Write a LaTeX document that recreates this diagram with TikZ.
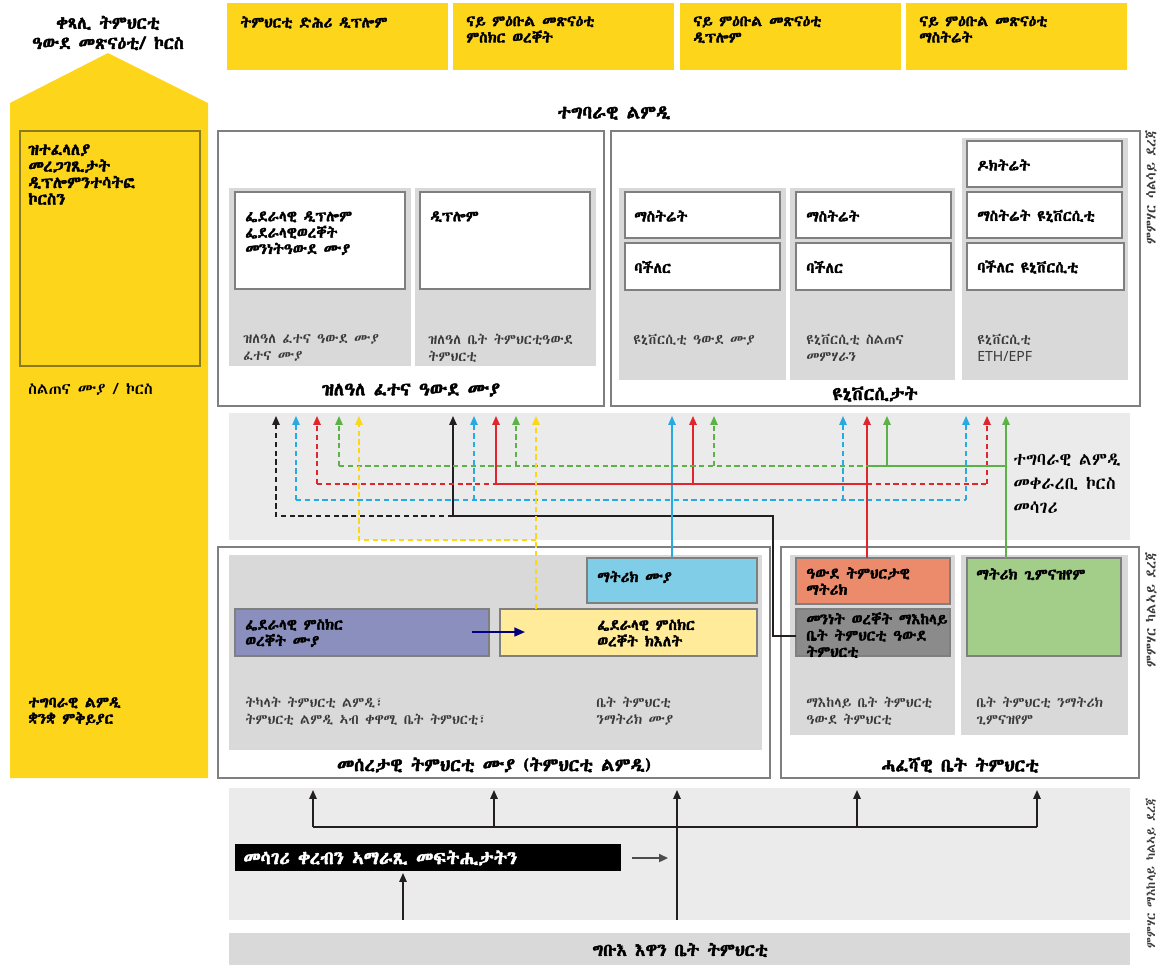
\documentclass[tikz,border=0pt]{standalone}
\usepackage{fontspec}
\IfFontExistsTF{Abyssinica SIL}{\setmainfont{Abyssinica SIL}[AutoFakeBold=2.5]}{%
 \IfFontExistsTF{FreeSerif}{\setmainfont{FreeSerif}}{\setmainfont{Noto Sans}}}
\newfontfamily\latinsf{Noto Sans}
\usetikzlibrary{arrows.meta}
\definecolor{yelbar}{HTML}{FDD61C}
\definecolor{panelgray}{HTML}{D9D9D9}
\definecolor{bandgray}{HTML}{EBEBEB}
\definecolor{framegray}{HTML}{7F7F7F}
\definecolor{notegray}{HTML}{3A3A3A}
\definecolor{matblue}{HTML}{7FCDE6}
\definecolor{certviolet}{HTML}{8A8FBE}
\definecolor{certyel}{HTML}{FFEB99}
\definecolor{salmon}{HTML}{EC8A6C}
\definecolor{midgray}{HTML}{8B8B8B}
\definecolor{gymgreen}{HTML}{A3CE89}
\definecolor{olive}{HTML}{8C7A1E}
\definecolor{lk}{HTML}{231F20}
\definecolor{lb}{HTML}{27AAE1}
\definecolor{lr}{HTML}{E1252D}
\definecolor{lg}{HTML}{5BB347}
\definecolor{ly}{HTML}{F9D71C}
\tikzset{
  frame/.style={draw=framegray, line width=1.1pt},
  cert/.style={draw=framegray, line width=0.8pt},
  lbl/.style={anchor=north west, align=left, inner sep=0pt, font=\fontsize{8.6}{9.3}\selectfont\bfseries},
  lblw/.style={lbl, anchor=west},
  note/.style={anchor=north west, align=left, inner sep=0pt, text=notegray, font=\fontsize{8}{9.6}\selectfont},
  ttl/.style={inner sep=0pt, font=\fontsize{10.5}{12}\selectfont\bfseries},
  up/.style={-{Triangle[length=5pt,width=4.2pt]}},
  dsh/.style={dash pattern=on 3pt off 2pt},
  conn/.style={line width=0.75pt}
}
\begin{document}
\begin{tikzpicture}[x=0.02cm,y=-0.02cm]
\useasboundingbox (0,0) rectangle (1159,965);
% left column
\fill[yelbar] (10,103) -- (108,53) -- (208,103) -- (208,778) -- (10,778) -- cycle;
\draw[olive, line width=0.6pt] (20,131) rectangle (200,366);
\node[ttl, align=center, font=\fontsize{10}{11.5}\selectfont\bfseries] (cont) at (108,33) {ቀጻሊ ትምህርቲ\\ዓውደ መጽናዕቲ/ ኮርስ};
\node[lbl, font=\fontsize{9.4}{9.4}\selectfont\bfseries] (divers) at (28,144) {ዝተፈላለያ\\መረጋገጺታት\\ዲፕሎምንተሳትፎ\\ኮርስን};
\node[lbl, font=\fontsize{9}{10}\selectfont] (course) at (28,383) {ስልጠና ሙያ / ኮርስ};
\node[lbl] (lang) at (28,697) {ተግባራዊ ልምዲ\\ቋንቋ ምቅይያር};
% top boxes
\foreach \x in {227,453,680,906}
  \fill[yelbar] (\x,3) rectangle ++(221,67);
\node[lbl] (adv1) at (240,16) {ትምህርቲ ድሕሪ ዲፕሎም};
\node[lbl] (adv2) at (466,16) {ናይ ምዕቡል መጽናዕቲ\\ምስክር ወረቐት};
\node[lbl] (adv3) at (693,16) {ናይ ምዕቡል መጽናዕቲ\\ዲፕሎም};
\node[lbl] (adv4) at (919,16) {ናይ ምዕቡል መጽናዕቲ\\ማስትሬት};
\node[ttl] (prac) at (614,113) {ተግባራዊ ልምዲ};
% higher vocational
\draw[frame] (218,131) rectangle (604,406);
\fill[panelgray] (229,188) rectangle (411,366);
\fill[panelgray] (415,188) rectangle (596,366);
\draw[cert, fill=white] (235,192) rectangle (405,289);
\draw[cert, fill=white] (420,192) rectangle (590,289);
\node[lbl] (fdip) at (245,211) {ፌደራላዊ ዲፕሎም\\ፌደራላዊወረቐት\\መንነትዓውደ ሙያ};
\node[lbl] (dip) at (430,211) {ዲፕሎም};
\node[note] (hexam) at (243,334) {ዝለዓለ ፈተና ዓውደ ሙያ\\ፈተና ሙያ};
\node[note] (hschool) at (428,334) {ዝለዓለ ቤት ትምህርቲዓውደ\\ትምህርቲ};
\node[ttl] (hvoc) at (411,390) {ዝለዓለ ፈተና ዓውደ ሙያ};
% universities
\draw[frame] (611,131) rectangle (1140,406);
\fill[panelgray] (619,188) rectangle (786,380);
\fill[panelgray] (790,188) rectangle (955,380);
\fill[panelgray] (962,138) rectangle (1128,380);
\foreach \x in {625,796}{
  \draw[cert, fill=white] (\x,192) rectangle ++(155,46);
  \draw[cert, fill=white] (\x,243) rectangle ++(155,47);
}
\draw[cert, fill=white] (967,141) rectangle (1122,187);
\draw[cert, fill=white] (967,192) rectangle (1122,238);
\draw[cert, fill=white] (967,243) rectangle (1124,290);
\node[lblw] (ms1) at (634,216) {ማስትሬት};
\node[lblw] (ba1) at (634,267) {ባችለር};
\node[lblw] (ms2) at (806,216) {ማስትሬት};
\node[lblw] (ba2) at (806,267) {ባችለር};
\node[lblw] (doc) at (977,165) {ዶክትሬት};
\node[lblw] (ms3) at (977,216) {ማስትሬት ዩኒቨርሲቲ};
\node[lblw] (ba3) at (977,267) {ባችለር ዩኒቨርሲቲ};
\node[note] (uas) at (633,334) {ዩኒቨርሲቲ ዓውደ ሙያ};
\node[note] (ute) at (806,334) {ዩኒቨርሲቲ ስልጠና\\መምሃራን};
\node[note] (eth) at (977,334) {ዩኒቨርሲቲ\\{\latinsf ETH/EPF}};
\node[ttl] (univ) at (875,394) {ዩኒቨርሲታት};
% bridge band
\fill[bandgray] (229,413) rectangle (1130,540);
\node[note, text=black, font=\fontsize{10}{13.6}\selectfont] (bridge) at (1013,454) {ተግባራዊ ልምዲ\\መቀራረቢ ኮርስ\\መሳገሪ};
% basic vocational
\draw[frame] (218,547) rectangle (770,778);
\fill[panelgray] (229,555) rectangle (762,750);
\draw[cert, fill=matblue] (587,558) rectangle (757,603);
\draw[cert, fill=certviolet] (235,609) rectangle (489,656);
\draw[cert, fill=certyel] (500,609) rectangle (757,656);
\node[lblw] (bmat) at (597,577) {ማትሪክ ሙያ};
\node[lblw] (fvoc) at (245,633) {ፌደራላዊ ምስክር\\ወረቐት ሙያ};
\node[lblw] (fcert) at (597,633) {ፌደራላዊ ምስክር\\ወረቐት ክእለት};
\node[note] (train) at (245,697) {ትካላት ትምህርቲ ልምዲ፣\\ትምህርቲ ልምዲ ኣብ ቀዋሚ ቤት ትምህርቲ፣};
\node[note] (vschool) at (596,697) {ቤት ትምህርቲ\\ንማትሪክ ሙያ};
\node[ttl] (bvoc) at (494,765) {መሰረታዊ ትምህርቲ ሙያ (ትምህርቲ ልምዲ)};
% general schools
\draw[frame] (781,547) rectangle (1139,778);
\fill[panelgray] (790,555) rectangle (955,735);
\fill[panelgray] (961,555) rectangle (1128,735);
\draw[cert, fill=salmon] (796,558) rectangle (950,604);
\draw[cert, fill=midgray] (796,609) rectangle (950,656);
\draw[cert, fill=gymgreen] (967,558) rectangle (1121,656);
\node[lbl] (smat) at (806,567) {ዓውደ ትምህርታዊ\\ማትሪክ};
\node[lbl] (scert) at (806,612) {መንነት ወረቐት ማእከላይ\\ቤት ትምህርቲ ዓውደ\\ትምህርቲ};
\node[lbl] (gmat) at (976,568) {ማትሪክ ጊምናዝየም};
\node[note] (sschool) at (806,697) {ማእከላይ ቤት ትምህርቲ\\ዓውደ ትምህርቲ};
\node[note] (gschool) at (976,697) {ቤት ትምህርቲ ንማትሪክ\\ጊምናዝየም};
\node[ttl] (gen) at (960,765) {ሓፈሻዊ ቤት ትምህርቲ};
% compulsory school
\fill[bandgray] (229,788) rectangle (1130,920);
\fill[panelgray] (229,933) rectangle (1130,965);
\fill[black] (235,844) rectangle (621,871);
\node[lblw, text=white, font=\fontsize{10.5}{12}\selectfont\bfseries] (offer) at (243,858) {መሳገሪ ቀረብን ኣማራጺ መፍትሒታትን};
\node[ttl, font=\fontsize{10}{12}\selectfont\bfseries] (comp) at (680,950) {ግቡእ እዋን ቤት ትምህርቲ};
% levels
\node[note, anchor=center, rotate=90] (lev3) at (1151,187) {ምምሃር ሳልሳይ ደረጃ};
\node[note, anchor=center, rotate=90] (lev2) at (1151,610) {ምምሃር ካልኣይ ደረጃ};
\node[note, anchor=center, rotate=90, font=\fontsize{7.2}{8}\selectfont] (lev1) at (1151,873) {ምምሃር ማእከላይ ካልኣይ ደረጃ};
% connectors
\coordinate (bluetop) at (672,558);
\coordinate (redtop) at (867,558);
\coordinate (greentop) at (1006,558);
\coordinate (yeltop) at (536,609);
\coordinate (grayW) at (796,636);
\coordinate (violetE) at (472,632);
\coordinate (certW) at (525,632);
\draw[conn, lk, dsh, up] (453,516) -| (276,416);
\draw[conn, lk, up] (grayW) -| (773,516) -| (453,416);
\draw[conn, lb, dsh] (296,500) -- (966,500);
\foreach \x in {296,474,843,966}
  \draw[conn, lb, dsh, up] (\x,500) -- (\x,416);
\draw[conn, lb, up] (bluetop) -- (672,416);
\draw[conn, lr, dsh] (317,484) -- (496,484);
\draw[conn, lr] (496,484) -- (867,484);
\draw[conn, lr, dsh] (867,484) -- (987,484);
\foreach \x in {317,987}
  \draw[conn, lr, dsh, up] (\x,484) -- (\x,416);
\foreach \x in {496,693}
  \draw[conn, lr, up] (\x,484) -- (\x,416);
\draw[conn, lr, up] (redtop) -- (867,416);
\draw[conn, lg, dsh] (339,466) -- (867,466);
\draw[conn, lg] (867,466) -- (1006,466);
\foreach \x in {339,516,714}
  \draw[conn, lg, dsh, up] (\x,466) -- (\x,416);
\draw[conn, lg, up] (887,466) -- (887,416);
\draw[conn, lg, up] (greentop) -- (1006,416);
\draw[conn, ly, dsh, up] (yeltop) -- (536,416);
\draw[conn, ly, dsh, up] (536,540) -| (359,416);
\draw[line width=1pt, blue!50!black, -{Triangle[length=6pt,width=5pt]}] (violetE) -- (certW);
\draw[conn, lk] (313,827) -- (1037,827);
\foreach \x in {313,494,857,1037}
  \draw[conn, lk, up] (\x,827) -- (\x,790);
\draw[conn, lk, up] (677,920) -- (677,790);
\draw[conn, lk, up] (403,920) -- (403,873);
\draw[line width=1pt, lk!80, -{Triangle[length=5pt,width=4.5pt]}] (632,858) -- (668,858);
\end{tikzpicture}
\end{document}
